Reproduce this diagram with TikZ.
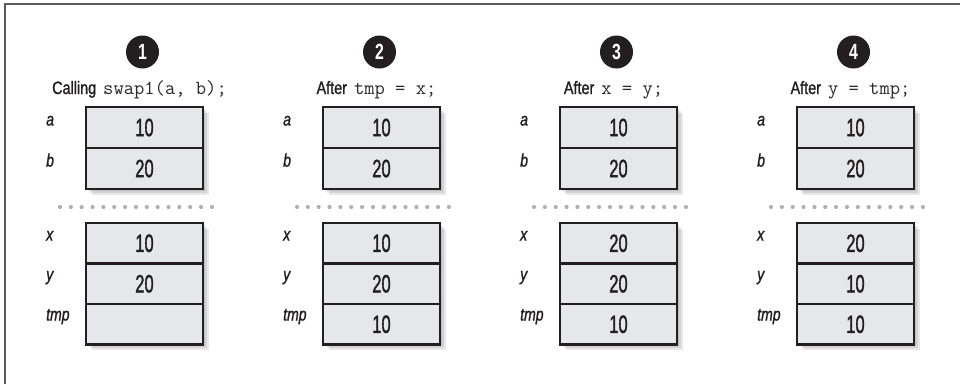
\documentclass[tikz,border=0pt]{standalone}
\usepackage{fontspec}
\newfontfamily\condnum[FakeStretch=0.66,FakeBold=1.3]{Liberation Sans}
\newfontfamily\condtxt[FakeStretch=0.8,FakeBold=1.3]{Liberation Sans}
\newfontfamily\condit[FakeStretch=0.78,FakeBold=1.3]{Liberation Sans}
\newfontfamily\circfont[FakeStretch=0.72]{Liberation Sans}
\definecolor{cellgray}{HTML}{E6E7E8}
\definecolor{inkblack}{HTML}{231F20}
\definecolor{framegray}{HTML}{5A5A5A}
\definecolor{dotgray}{HTML}{B0B0B0}
\definecolor{codegray}{HTML}{2A2A2A}
\tikzset{
  cell/.style={draw=inkblack, line width=2.5pt, fill=cellgray, minimum width=117pt,
    minimum height=41pt, inner sep=0pt, outer sep=0pt,
    font=\condnum\fontsize{25}{25}\selectfont, text=inkblack},
  lbl/.style={anchor=base west, inner sep=0pt, font=\condit\itshape\fontsize{18}{18}\selectfont, text=inkblack},
  numcirc/.style={circle, fill=inkblack, minimum size=33pt, inner sep=0pt, text=white,
    font=\circfont\bfseries\fontsize{22}{22}\selectfont},
  capt/.style={anchor=base, inner sep=0pt, font=\condtxt\fontsize{18}{18}\selectfont, text=inkblack},
  shadowfill/.style={fill=black, opacity=0.09},
}
\newcommand\swapcol[7]{%
  \pgfmathsetmacro\R{#2+117}%
  \pgfmathsetmacro\C{#2+58.5}%
  \foreach \k in {2,4,6}{%
    \fill[shadowfill] (#2+\k,107+\k) rectangle (\R+\k,189+\k);
    \fill[shadowfill] (#2+\k,223+\k) rectangle (\R+\k,344+\k);
  }
  \node[cell] (a#1) at (\C,127.5) {10};
  \node[cell] (b#1) at (\C,168.5) {20};
  \node[cell, minimum height=40.5pt] (x#1) at (\C,243.25) {#5};
  \node[cell, minimum height=40.5pt] (y#1) at (\C,283.75) {#6};
  \node[cell, minimum height=40.5pt] (t#1) at (\C,324.25) {#7};
  \node[lbl] (la#1) at (#2-40,125.5) {a};
  \node[lbl] (lb#1) at (#2-40,166.5) {b};
  \node[lbl] (lx#1) at (#2-40,240.5) {x};
  \node[lbl] (ly#1) at (#2-40,280.5) {y};
  \node[lbl] (lt#1) at (#2-40,320.5) {tmp};
  \node[numcirc] (n#1) at (\C-2,52) {#1};
  \node[capt] (c#1) at (\C-5,94) {#3\hspace{7pt}{\ttfamily\fontsize{20}{20}\selectfont\color{codegray}#4}};
  \foreach \i in {0,...,14}{\fill[dotgray] (#2-26+\i*10.85,207) circle (2.1pt);}
}
\begin{document}
\begin{tikzpicture}[x=1pt,y=-1pt]
\useasboundingbox (0,0) rectangle (960,384);
\draw[framegray, line width=2pt] (5,384) -- (5,4) -- (960,4);
\swapcol{1}{86}{Calling}{swap1(a, b);}{10}{20}{}
\swapcol{2}{323}{After}{tmp = x;}{10}{20}{10}
\swapcol{3}{560}{After}{x = y;}{20}{20}{10}
\swapcol{4}{797}{After}{y = tmp;}{20}{10}{10}
\end{tikzpicture}
\end{document}
